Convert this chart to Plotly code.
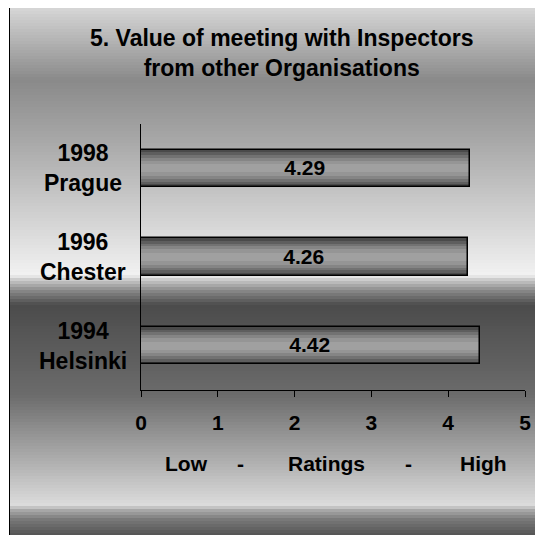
import plotly.graph_objects as go
import numpy as np

# data (bottom to top)
years = ["1994", "1996", "1998"]
places = ["Helsinki", "Chester", "Prague"]
ratings = [4.42, 4.26, 4.29]
x_ticks = [0, 1, 2, 3, 4, 5]
axis_words = ["Low", "-", "Ratings", "-", "High"]

cats = [y + " " + p for y, p in zip(years, places)]

# page body adds an 8px offset, so positions below are screen px minus 8
OFF = 8
W, H = 543, 535
L, R, T, B = 141 - OFF, 543 - (525 - OFF), 124 - OFF, 535 - (390 - OFF)
pw, ph = W - L - R, H - T - B

def px_x(px):
    return (px - OFF - L) / pw

def px_y(py):
    return (H - B - (py - OFF)) / ph

FONT = "Liberation Sans, Arial, sans-serif"

fig = go.Figure()

# striped bars: nested bars, dark edges -> light centre
bands = [(0.42, "#4a4a4a"), (0.36, "#5e5e5e"), (0.30, "#727272"),
         (0.24, "#858585"), (0.17, "#959595"), (0.09, "#a0a0a0")]
for w, c in bands:
    fig.add_trace(go.Bar(y=cats, x=ratings, orientation="h", width=w,
                         marker=dict(color=c, line=dict(width=0)),
                         hoverinfo="skip", showlegend=False))

fig.add_trace(go.Bar(
    y=cats, x=ratings, orientation="h", width=0.42,
    marker=dict(color="rgba(0,0,0,0)", line=dict(color="black", width=1.5)),
    text=["%.2f" % v for v in ratings], textposition="inside",
    insidetextanchor="middle", constraintext="none",
    textfont=dict(family=FONT, size=21, color="black", weight="bold"),
    showlegend=False))

# background gradient (banded like the original)
stops_y = [7, 80, 140, 275, 280, 290, 305, 395, 505, 510, 520, 535]
stops_c = [216, 138, 168, 242, 200, 140, 76, 108, 220, 170, 119, 85]
shapes = []
step = 3
for y0 in range(8, H + 10, step):
    g = int(np.interp(y0 + step / 2, stops_y, stops_c))
    shapes.append(dict(type="rect", xref="paper", yref="paper", layer="below",
                       x0=px_x(10), x1=px_x(W + 20), y0=px_y(y0), y1=px_y(y0 + step),
                       fillcolor="rgb(%d,%d,%d)" % (g, g, g), line=dict(width=0)))
shapes.append(dict(type="rect", xref="paper", yref="paper", layer="below",
                   x0=px_x(9.5), x1=px_x(W + 30), y0=px_y(7.5), y1=px_y(H + 30),
                   line=dict(color="black", width=1), fillcolor="rgba(0,0,0,0)"))

annotations = [dict(text="5. Value of meeting with Inspectors<br>from other Organisations",
                    xref="paper", yref="paper", x=px_x(281), y=px_y(53),
                    xanchor="center", yanchor="middle", showarrow=False, align="center",
                    font=dict(family=FONT, size=23, color="black", weight="bold"))]
for c, yr, pl in zip(cats, years, places):
    annotations.append(dict(text=yr + "<br>" + pl, xref="paper", yref="y",
                            x=px_x(83), y=c, xanchor="center", yanchor="middle",
                            showarrow=False, align="center",
                            font=dict(family=FONT, size=23, color="black", weight="bold")))
word_x = [186, 240, 326, 408, 483]
for wd, wx in zip(axis_words, word_x):
    annotations.append(dict(text=wd, xref="paper", yref="paper", x=px_x(wx), y=px_y(463),
                            xanchor="center", yanchor="middle", showarrow=False,
                            font=dict(family=FONT, size=21, color="black", weight="bold")))

fig.update_layout(
    width=W, height=H,
    margin=dict(l=L, r=R, t=T, b=B),
    paper_bgcolor="white", plot_bgcolor="rgba(0,0,0,0)",
    barmode="overlay", bargap=0,
    shapes=shapes, annotations=annotations,
    xaxis=dict(range=[0, 5], tickvals=x_ticks, showgrid=False, zeroline=False,
               showline=True, linecolor="black", linewidth=1,
               ticks="outside", ticklen=6, tickcolor="black", ticklabelstandoff=8,
               tickfont=dict(family=FONT, size=21, color="black", weight="bold")),
    yaxis=dict(categoryorder="array", categoryarray=cats, showticklabels=False,
               showgrid=False, zeroline=False, showline=True, linecolor="black",
               linewidth=1, ticks=""),
)

fig.write_html("out.html")
